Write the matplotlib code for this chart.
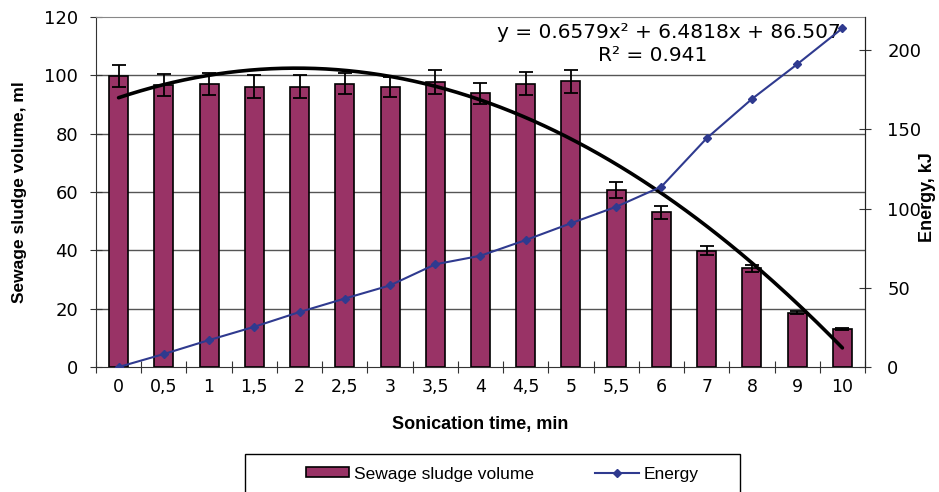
import numpy as np
import matplotlib

matplotlib.use("Agg")

import matplotlib.pyplot as plt  # noqa: E402
from matplotlib.patches import Rectangle  # noqa: E402
from matplotlib.lines import Line2D  # noqa: E402

plt.rcParams["font.family"] = ["Liberation Sans", "DejaVu Sans"]

time_labels = ["0", "0,5", "1", "1,5", "2", "2,5", "3", "3,5", "4", "4,5",
               "5", "5,5", "6", "7", "8", "9", "10"]
sludge_ml = [99.8, 96.7, 97.0, 96.1, 96.1, 97.2, 96.1, 97.8, 93.8, 97.2,
             97.9, 60.7, 53.0, 39.9, 33.8, 18.6, 13.0]
sludge_err = [3.8, 3.8, 3.7, 4.0, 4.0, 3.5, 3.5, 4.1, 3.6, 3.9,
              4.0, 2.6, 2.2, 1.6, 1.3, 0.5, 0.4]
energy_kj = [0.0, 8.2, 17.0, 25.4, 34.7, 43.2, 51.5, 64.8, 70.2, 80.1,
             90.7, 101.1, 113.8, 144.3, 169.1, 191.0, 213.7]

# polynomial trendline, Excel numbers its categories 1..n
trend_coef = [-0.6579, 6.4818, 86.507]

BAR = "#993366"
NAVY = "#2f3a8f"
WIDE = ["DejaVu Sans"]

fig = plt.figure(figsize=(9.39, 4.92), dpi=100)
ax = fig.add_axes([0.1022, 0.254, 0.8190, 0.7114])

x = np.arange(len(time_labels))
ax.bar(x, sludge_ml, width=0.42, color=BAR, edgecolor="black", linewidth=1.2, zorder=3)
ax.errorbar(x, sludge_ml, yerr=sludge_err, fmt="none", ecolor="black",
            elinewidth=1.3, capsize=5, capthick=1.3, zorder=4)

xs = np.linspace(0, len(x) - 1, 200)
ax.plot(xs, np.polyval(trend_coef, xs + 1), color="black", linewidth=2.6,
        solid_capstyle="round", zorder=5)

ax.set_xlim(-0.5, len(x) - 0.5)
ax.set_ylim(0, 120)
ax.set_yticks(np.arange(0, 121, 20))
for g in range(20, 101, 20):
    ax.axhline(g, color="#555555", linewidth=1.0, zorder=1)

ax.set_xticks(np.arange(-0.5, len(x), 1.0))
ax.set_xticklabels([])
ax.set_xticks(x, minor=True)
ax.set_xticklabels(time_labels, minor=True, family=WIDE, fontsize=12.5)
ax.tick_params(axis="x", which="major", direction="inout", length=8, width=0.8, color="#333333")
ax.tick_params(axis="x", which="minor", length=0, pad=8)
ax.tick_params(axis="y", direction="inout", length=8, width=0.8, color="#333333", pad=9)
for lbl in ax.get_yticklabels():
    lbl.set_family(WIDE)
    lbl.set_fontsize(13)

for side in ("left", "bottom"):
    ax.spines[side].set_color("#333333")
ax.spines["top"].set_color("#888888")
ax.spines["right"].set_color("#222222")

ax.set_ylabel("Sewage sludge volume, ml", fontsize=12.5, fontweight="bold", labelpad=12)
ax.set_xlabel("Sonication time, min", fontsize=13, fontweight="bold",
              family=["Liberation Sans Narrow", "Liberation Sans"], labelpad=14)

ax2 = ax.twinx()
ax2.plot(x, energy_kj, color=NAVY, linewidth=1.5, marker="D", markersize=4.5, zorder=6)
ax2.set_ylim(0, 220.8)
ax2.set_yticks(np.arange(0, 201, 50))
ax2.tick_params(axis="y", direction="inout", length=8, width=0.8, color="#333333", pad=12)
for lbl in ax2.get_yticklabels():
    lbl.set_family(WIDE)
    lbl.set_fontsize(13)
ax2.spines["right"].set_color("#222222")
ax2.spines["top"].set_visible(False)
ax2.spines["left"].set_visible(False)
ax2.spines["bottom"].set_visible(False)
fig.text(0.988, 0.60, "Energy, kJ", rotation=90, fontsize=13, fontweight="bold",
         ha="center", va="center")

ax.text(0.7445, 0.957, "y = 0.6579x² + 6.4818x + 86.507", transform=ax.transAxes,
        ha="center", va="center", fontsize=14.5, family=WIDE, zorder=7)
ax.text(0.7245, 0.891, "R² = 0.941", transform=ax.transAxes,
        ha="center", va="center", fontsize=14.5, family=WIDE, zorder=7)

# legend box running off the bottom edge
fig.patches.append(Rectangle((245 / 939, -0.05), 495 / 939, 0.05 + 38 / 492,
                             transform=fig.transFigure, fill=False,
                             edgecolor="black", linewidth=1.0))
handles = [
    Rectangle((0, 0), 1, 1, facecolor=BAR, edgecolor="black", linewidth=1.2),
    Line2D([], [], color=NAVY, linewidth=1.5, marker="D", markersize=4.5),
]
fig.legend(handles, ["Sewage sludge volume", "Energy"], loc="center",
           bbox_to_anchor=(0.535, 1 - 474 / 492), ncol=2, frameon=False,
           fontsize=12.5, handlelength=2.5, handleheight=0.5, columnspacing=3.5,
           handletextpad=0.3)

fig.savefig("out.png", dpi=100)
